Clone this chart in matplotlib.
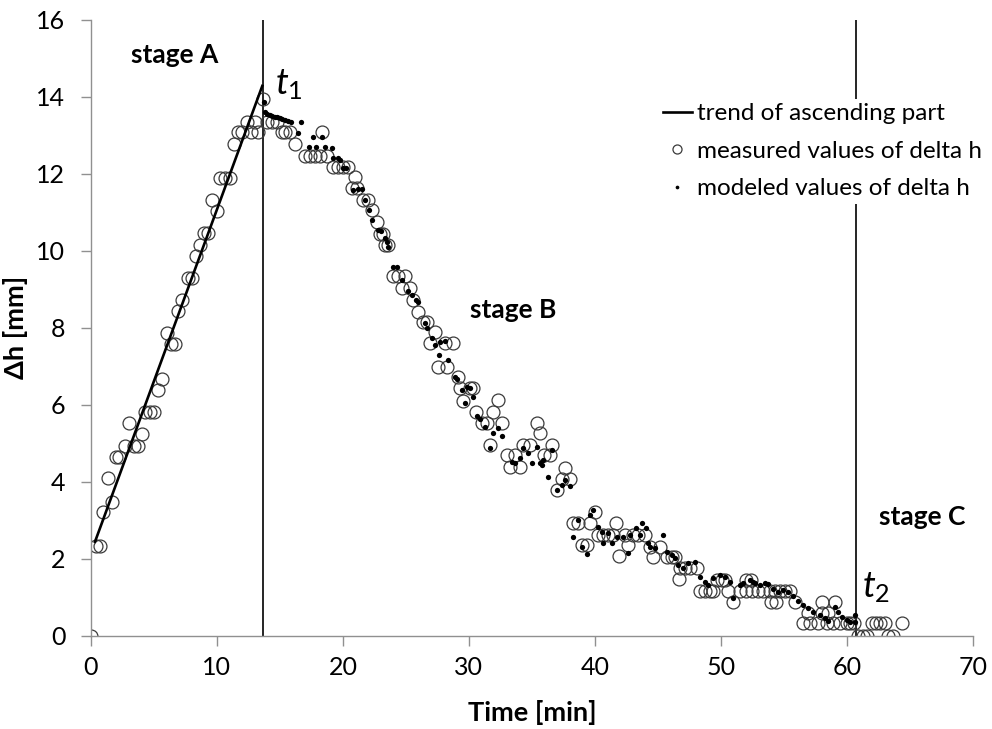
import numpy as np
import matplotlib
matplotlib.use('Agg')
import matplotlib.pyplot as plt

# measured delta h (open circles)
meas_t = [0.0, 0.37, 0.71, 0.98, 1.32, 1.64, 1.96, 2.22, 2.7, 3.02, 3.44, 3.7, 4.02, 4.29, 4.68,
          5.03, 5.34, 5.66, 6.0, 6.35, 6.67, 6.93, 7.25, 7.72, 7.99, 8.33, 8.65, 9.0, 9.31, 9.63,
          10.02, 10.24, 10.63, 11.03, 11.35, 11.69, 11.95, 12.35, 12.7, 13.02, 13.28, 13.68,
          13.94, 14.33, 14.73, 15.13, 15.4, 15.8, 16.2, 16.98, 17.38, 17.78, 18.17, 18.36, 18.7,
          19.24, 19.63, 20.03, 20.42, 20.69, 20.95, 21.09, 21.61, 22.0, 22.28, 22.67, 22.94, 23.2,
          23.33, 23.6, 24.0, 24.4, 24.66, 24.92, 25.3, 25.53, 25.98, 26.38, 26.64, 26.9, 27.3,
          27.56, 28.1, 28.23, 28.7, 29.15, 29.29, 29.55, 30.08, 30.34, 30.6, 31.0, 31.4, 31.67,
          31.93, 32.33, 32.6, 33.0, 33.25, 33.65, 34.05, 34.3, 34.84, 35.37, 35.63, 35.95, 36.4,
          36.56, 36.96, 37.36, 37.62, 38.0, 38.28, 38.68, 38.94, 39.34, 39.6, 40.0, 40.26, 40.66,
          41.06, 41.45, 41.67, 41.94, 42.38, 42.65, 43.04, 43.44, 43.97, 44.37, 44.63, 45.16,
          45.69, 46.09, 46.35, 46.67, 46.75, 47.14, 47.54, 48.07, 48.33, 48.73, 49.13, 49.39,
          49.66, 50.05, 50.32, 50.58, 50.98, 51.5, 52.0, 52.0, 52.4, 52.5, 52.96, 53.35, 53.9,
          54.0, 54.3, 54.4, 54.68, 55.08, 55.5, 55.87, 56.5, 56.93, 57.06, 57.7, 58.0, 58.0,
          58.4, 58.5, 58.9, 59.05, 59.44, 59.98, 60.24, 60.6, 60.9, 61.3, 61.6, 61.96, 62.35,
          62.62, 63.0, 63.28, 63.67, 64.34]
meas_v = [0.0, 2.33, 2.33, 3.2, 4.09, 3.48, 4.65, 4.65, 4.93, 5.53, 4.93, 4.93, 5.23, 5.82, 5.82,
          5.82, 6.38, 6.67, 7.85, 7.57, 7.57, 8.44, 8.72, 9.3, 9.3, 9.86, 10.15, 10.45, 10.45, 11.32,
          11.04, 11.9, 11.9, 11.9, 12.76, 13.07, 13.07, 13.35, 13.07, 13.35, 13.07, 13.93,
          13.35, 13.35, 13.35, 13.07, 13.07, 13.07, 12.76, 12.47, 12.47, 12.47, 12.47, 13.07, 12.47,
          12.18, 12.18, 12.18, 12.18, 11.62, 11.92, 11.62, 11.32, 11.32, 11.06, 10.75, 10.43, 10.43,
          10.15, 10.15, 9.33, 9.33, 9.02, 9.33, 9.02, 8.72, 8.42, 8.16, 8.16, 7.6, 7.88,
          6.97, 7.6, 6.97, 7.6, 6.71, 6.43, 6.1, 6.43, 6.43, 5.82, 5.52, 5.52, 4.95,
          5.82, 6.12, 5.52, 4.69, 4.39, 4.69, 4.39, 4.95, 4.95, 5.52, 5.26, 4.69, 4.69,
          4.95, 3.78, 4.06, 4.35, 4.06, 2.92, 2.92, 2.36, 2.36, 2.92, 3.2, 2.62, 2.62,
          2.62, 2.62, 2.92, 2.07, 2.62, 2.36, 2.62, 2.62, 2.62, 2.31, 2.05, 2.31,
          2.05, 2.05, 2.05, 1.46, 1.75, 1.75, 1.75, 1.75, 1.17, 1.17, 1.17, 1.17,
          1.45, 1.45, 1.45, 1.17, 0.88, 1.17, 1.45, 1.17, 1.45, 1.17, 1.17, 1.17, 1.17,
          0.88, 1.17, 0.88, 1.17, 1.17, 1.17, 0.88, 0.32, 0.6, 0.32, 0.32, 0.6, 0.88,
          0.32, 0.6, 0.32, 0.88, 0.32, 0.32, 0.32, 0.32, 0.0, 0.0, 0.0, 0.32, 0.32,
          0.32, 0.32, 0.0, 0.0, 0.32]

# modeled delta h (small filled dots)
mod_t = [13.75, 13.8, 14.0, 14.2, 14.4, 14.6, 14.8, 15.0, 15.2, 15.4, 15.6, 15.9, 16.45, 16.7,
         17.3, 17.65, 17.9, 18.36, 18.57, 19.1, 19.23, 19.63, 19.76, 20.03, 20.24, 20.82, 21.22,
         21.48, 21.75, 22.09, 22.28, 22.8, 22.99, 23.33, 23.47, 23.6, 24.0, 24.26, 24.66, 25.18,
         25.45, 25.79, 25.98, 26.5, 26.64, 27.04, 27.3, 27.65, 27.7, 28.1, 28.37, 28.9, 29.02,
         29.42, 29.68, 29.82, 30.08, 30.34, 30.66, 30.87, 31.27, 31.67, 31.93, 32.33, 32.6,
         33.39, 33.65, 34.05, 34.31, 34.71, 34.97, 35.37, 35.63, 35.77, 35.9, 36.3, 36.63,
         36.96, 37.36, 37.62, 38.0, 38.28, 38.68, 38.94, 39.34, 39.6, 39.87, 40.26, 40.53,
         40.66, 41.06, 41.32, 41.72, 42.25, 42.65, 42.78, 43.3, 43.57, 43.7, 44.05, 44.23,
         44.37, 44.76, 45.37, 45.69, 46.09, 46.35, 46.6, 47.0, 47.4, 47.94, 48.33, 48.73,
         49.0, 49.39, 49.92, 50.32, 50.71, 50.98, 51.5, 51.77, 52.3, 52.57, 52.7, 53.1, 53.5,
         53.75, 54.15, 54.55, 54.94, 55.34, 55.74, 56.13, 56.53, 56.93, 57.33, 57.86, 58.25,
         58.52, 59.05, 59.31, 59.58, 59.98, 60.24, 60.63, 60.63]
mod_v = [13.85, 13.6, 13.55, 13.52, 13.5, 13.48, 13.46, 13.45, 13.42, 13.4, 13.38, 13.35, 13.05, 13.33,
         12.7, 12.96, 12.69, 12.96, 12.69, 12.66, 12.4, 12.4, 12.35, 12.14, 12.14, 11.58, 11.6,
         11.6, 11.32, 11.06, 10.8, 10.54, 10.52, 10.32, 10.23, 10.1, 9.58, 9.58, 9.24, 8.94,
         8.85, 8.72, 8.68, 8.13, 7.98, 7.72, 7.55, 7.29, 7.64, 7.66, 7.16, 6.73, 6.68,
         6.38, 6.05, 6.47, 6.43, 6.21, 5.71, 5.62, 5.41, 4.87, 5.26, 5.39, 5.19,
         4.52, 4.48, 4.61, 4.87, 4.74, 4.48, 4.91, 4.48, 4.43, 4.56, 4.13, 4.82,
         3.78, 3.91, 4.04, 3.89, 2.57, 3.0, 2.31, 2.12, 3.13, 3.26, 2.83, 2.7,
         2.4, 2.66, 2.42, 2.57, 2.57, 2.16, 2.62, 2.79, 2.62, 2.92, 2.81, 2.4,
         2.31, 2.27, 2.62, 2.18, 2.1, 2.01, 1.84, 1.75, 1.88, 1.92, 1.53, 1.4,
         1.32, 1.49, 1.58, 1.53, 1.4, 0.97, 1.32, 1.38, 1.45, 1.4, 1.36, 1.32, 1.36,
         1.34, 1.2, 1.14, 1.19, 1.14, 1.03, 0.91, 0.8, 0.71, 0.62, 0.54, 0.45,
         0.39, 0.75, 0.62, 0.49, 0.41, 0.36, 0.54, 0.36]

# linear trend of the ascending part
trend_t = [0.32, 13.6]
trend_v = [2.44, 14.28]

t1 = 13.65
t2 = 60.7

plt.rcParams['font.family'] = 'Lato'
plt.rcParams['mathtext.fontset'] = 'custom'
plt.rcParams['mathtext.it'] = 'Lato:italic'
plt.rcParams['mathtext.rm'] = 'Lato'

fig = plt.figure(figsize=(9.92, 7.29), dpi=100)
ax = fig.add_axes([0.0917, 0.128, 0.889, 0.845])

ax.axvline(t1, color='black', lw=1.2, zorder=1)
ax.axvline(t2, color='black', lw=1.2, zorder=1)

ax.plot(trend_t, trend_v, color='black', lw=1.9, zorder=3, label='trend of ascending part')
ax.plot(meas_t, meas_v, linestyle='none', marker='o', markersize=9.3, markerfacecolor='none',
        markeredgecolor='#3a3a3a', markeredgewidth=0.9, zorder=2, label='measured values of delta h')
ax.plot(mod_t, mod_v, linestyle='none', marker='o', markersize=3.8, color='black',
        markeredgewidth=0, zorder=4, label='modeled values of delta h')

ax.set_xlim(0, 70)
ax.set_ylim(0, 16)
ax.set_xticks(np.arange(0, 71, 10))
ax.set_yticks(np.arange(0, 17, 2))

for side in ['top', 'right']:
    ax.spines[side].set_visible(False)
for side in ['left', 'bottom']:
    ax.spines[side].set_color('#909090')
    ax.spines[side].set_linewidth(1.0)
ax.tick_params(axis='both', direction='out', length=7.5, width=1.0, color='#909090',
               labelsize=18)
ax.tick_params(axis='x', pad=7)
ax.tick_params(axis='y', pad=11)

ax.set_xlabel('Time [min]', fontsize=19.5, fontweight='bold', labelpad=15)
ax.set_ylabel('Δh [mm]', fontsize=19.5, fontweight='bold', labelpad=6)

ax.text(6.67, 15.08, 'stage A', fontsize=19, fontweight='bold', ha='center', va='center')
ax.text(33.5, 8.46, 'stage B', fontsize=19, fontweight='bold', ha='center', va='center')
ax.text(65.95, 3.08, 'stage C', fontsize=19, fontweight='bold', ha='center', va='center')
ax.text(14.6, 14.3, r'$t_{1}$', fontsize=26, ha='left', va='center')
ax.text(61.2, 1.25, r'$t_{2}$', fontsize=26, ha='left', va='center')

leg = ax.legend(loc='upper left', bbox_to_anchor=(0.643, 0.872), fontsize=17.5,
                frameon=True, framealpha=1, facecolor='white', edgecolor='none',
                handlelength=1.2, handletextpad=0.2, labelspacing=0.68, markerscale=0.7,
                borderpad=0.2, borderaxespad=0)
leg.set_zorder(5)

fig.savefig('out.png', dpi=100)
